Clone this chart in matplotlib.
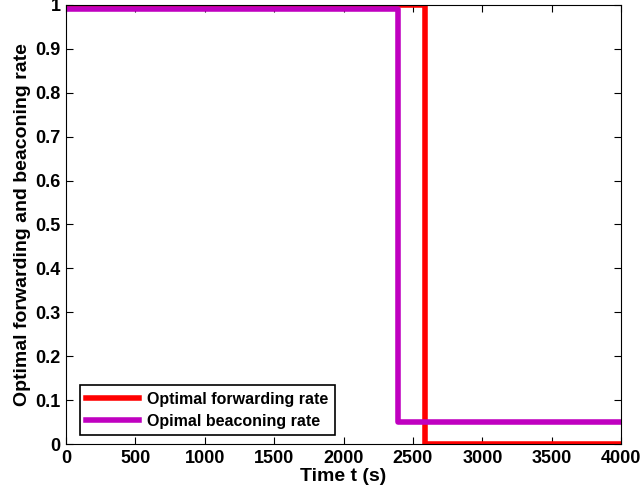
import numpy as np
import matplotlib
matplotlib.use("Agg")
import matplotlib.pyplot as plt

plt.rcParams["font.family"] = ["Liberation Sans", "DejaVu Sans"]
plt.rcParams["font.weight"] = "bold"

# Step data
fwd_t = [0, 2590, 2590, 4000]
fwd_rate = [1.0, 1.0, 0.0, 0.0]
bcn_t = [0, 2390, 2390, 4000]
bcn_rate = [0.99, 0.99, 0.05, 0.05]

fig = plt.figure(figsize=(6.41, 4.97), dpi=100)
ax = fig.add_axes([0.103, 0.1066, 0.866, 0.8834])

ax.plot(fwd_t, fwd_rate, color="#FF0000", linewidth=4, label="Optimal forwarding rate")
ax.plot(bcn_t, bcn_rate, color="#C000C0", linewidth=4, label="Opimal beaconing rate")

ax.set_xlim(0, 4000)
ax.set_ylim(0, 1)
ax.set_xticks(np.arange(0, 4001, 500))
ax.set_yticks(np.arange(0, 1.01, 0.1))
ax.set_yticklabels(["0", "0.1", "0.2", "0.3", "0.4", "0.5", "0.6", "0.7", "0.8", "0.9", "1"])
ax.tick_params(direction="in", length=5, labelsize=13, top=True, right=True, pad=4)
for lbl in ax.get_xticklabels() + ax.get_yticklabels():
    lbl.set_fontweight("bold")

ax.set_xlabel("Time t (s)", fontsize=14, fontweight="bold", labelpad=1)
ax.set_ylabel("Optimal forwarding and beaconing rate", fontsize=14, fontweight="bold", labelpad=3)

leg = ax.legend(loc="lower left", bbox_to_anchor=(0.025, 0.02), fontsize=11.5,
                fancybox=False, edgecolor="black", framealpha=1, handlelength=3.3,
                borderaxespad=0, labelspacing=0.45, borderpad=0.4, handletextpad=0.5)
leg.get_frame().set_linewidth(1.2)
for t in leg.get_texts():
    t.set_fontweight("bold")

plt.savefig("out.png", dpi=100)
plt.close()
